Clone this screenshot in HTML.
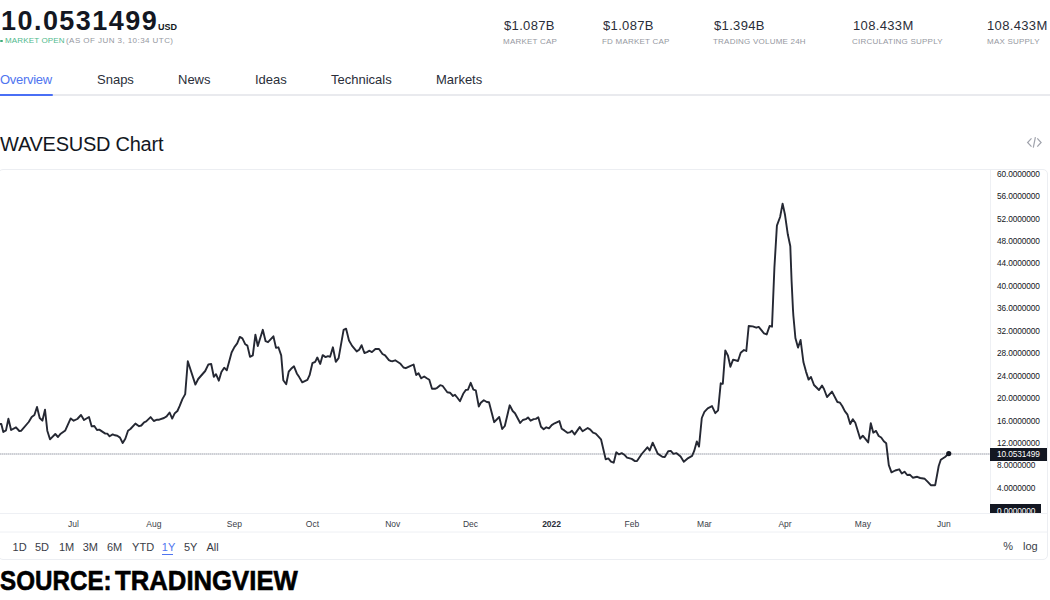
<!DOCTYPE html>
<html><head><meta charset="utf-8">
<style>
*{margin:0;padding:0;box-sizing:border-box}
html,body{width:1050px;height:600px;overflow:hidden;background:#fff}
body{position:relative;font-family:"Liberation Sans",sans-serif;color:#131722}
.a{position:absolute;white-space:nowrap}
.price{left:1px;top:6px;font-size:27px;font-weight:bold;letter-spacing:1.45px;line-height:30px;color:#131722}
.usd{left:158px;top:21.5px;font-size:9px;font-weight:bold;line-height:10px;color:#131722}
.mo{left:5px;top:36px;font-size:8px;line-height:10px;color:#9598a1;letter-spacing:0.15px}
.mo .g{color:#4fb98c}
.mo2{left:66px;letter-spacing:0.44px}
.sv{font-size:13px;line-height:14px;color:#2a2e39;top:19px;letter-spacing:0.35px}
.sl{font-size:8px;line-height:10px;color:#9598a1;top:36.7px;letter-spacing:0.22px;margin-left:-1px}
.tab{top:72px;font-size:13px;line-height:15px;color:#2a2e39}
.title{left:0;top:133px;font-size:20px;line-height:22px;color:#131722;letter-spacing:-0.25px}
.box{left:-2px;top:169px;width:1050px;height:391px;border:1px solid #eceef2;border-radius:5px}
.yl{font-size:8.3px;line-height:10px;color:#131722;left:997px;letter-spacing:-0.1px}
.xl{font-size:8.5px;line-height:10px;color:#3a3d47;top:519px}
.tb{top:541px;font-size:11px;line-height:12px;color:#3a3d47}
.src{left:0;top:565px;font-size:28.5px;font-weight:bold;line-height:30px;color:#000;transform-origin:0 0;transform:scaleX(0.868);-webkit-text-stroke:0.6px #000}
</style></head><body>
<div class="a price">10.0531499</div>
<div class="a usd">USD</div>
<div class="a" style="left:-0.3px;top:39.7px;width:2.8px;height:2.8px;border-radius:50%;background:#3fae7f"></div>
<div class="a mo"><span class="g">MARKET OPEN</span></div>
<div class="a mo mo2">(AS OF JUN 3, 10:34 UTC)</div>

<div class="a sv" style="left:504px">$1.087B</div>
<div class="a sl" style="left:504px">MARKET CAP</div>
<div class="a sv" style="left:603px">$1.087B</div>
<div class="a sl" style="left:603px">FD MARKET CAP</div>
<div class="a sv" style="left:714px">$1.394B</div>
<div class="a sl" style="left:714px">TRADING VOLUME 24H</div>
<div class="a sv" style="left:853px">108.433M</div>
<div class="a sl" style="left:853px">CIRCULATING SUPPLY</div>
<div class="a sv" style="left:987px">108.433M</div>
<div class="a sl" style="left:988px">MAX SUPPLY</div>

<div class="a tab" style="left:0;color:#5075f0;letter-spacing:-0.3px">Overview</div>
<div class="a tab" style="left:97px">Snaps</div>
<div class="a tab" style="left:178px">News</div>
<div class="a tab" style="left:255px">Ideas</div>
<div class="a tab" style="left:331px">Technicals</div>
<div class="a tab" style="left:436px">Markets</div>
<div class="a" style="left:0;top:94px;width:1050px;height:2px;background:#e9eaee"></div>
<div class="a" style="left:0;top:93.8px;width:52.5px;height:2px;background:#4a6ff5;border-radius:0 1px 1px 0"></div>

<div class="a title">WAVESUSD Chart</div>
<svg class="a" style="left:1026px;top:136px" width="17" height="13" viewBox="1026 136 17 13">
<path d="M1031.5 138.3 L1027.6 142.5 L1031.5 146.7 M1035.4 137.2 L1033.3 147.7 M1037.3 138.3 L1041.1 142.5 L1037.3 146.7" fill="none" stroke="#a0a3ac" stroke-width="1.2"/>
</svg>

<div class="a box"></div>
<!--CHART-->
<svg class="a" style="left:0;top:0" width="1050" height="600" viewBox="0 0 1050 600">
<line x1="0" y1="453.9" x2="990" y2="453.9" stroke="#e2e3e7" stroke-width="2"/><line x1="0" y1="453.9" x2="990" y2="453.9" stroke="#cdcfd4" stroke-width="2" stroke-dasharray="1,1"/>
<polyline points="0,424 1.3,424 3.3,432 6,430.4 8.4,418.7 11.1,430 16,427.3 19.3,431 21.3,430.7 28.7,422 31.7,417 34.4,415 37,407 39.7,418 42.4,420.7 45,409.6 47.3,430.7 50,439.3 55.3,434 58,437 60.7,433.7 65.3,430.4 70.7,418.4 73.7,420.7 77.3,419 81,415 84,420 89,417 91.7,426.4 94.3,426 97,430 99.3,429.6 105.3,433.6 107.3,433.6 109.6,436.3 112.7,434.4 115,435.3 117.3,435.7 120,437.6 122.7,443 125.3,438.7 128,430.7 130.4,429 135.4,423.6 139.1,426.2 141.3,425.5 144.1,422.3 146.2,421.4 150.6,417.1 153.8,421 157.1,419.7 159.2,419.7 164,418 166.6,416.4 169.6,412.5 172.2,418.6 174.8,413.2 177.4,411 179.6,406.2 182.4,399.1 185.2,394.1 187.8,361.2 195.4,384.6 198.2,379 205.2,371 208.4,364.4 211.2,364 213.8,376.8 216,374.2 218.8,380.7 221.4,372 224.2,367.7 226.8,370.3 231.6,352.5 234.4,347.1 237.2,343.4 239.8,336.9 242.4,338.4 245.3,344.3 247.4,345.6 250,356.8 252.8,355.3 255.4,334.7 257.8,346 262.8,329.8 265.6,341.2 268,342.2 270.6,339.4 273.4,336.3 276,347.9 278.4,347.3 281.2,355.4 283.3,380.2 286.2,384.2 288.7,371.7 291.1,368.8 294,366.3 296.8,373.4 299.2,377.1 302.2,382.3 307.4,379.9 309.6,375.2 312.4,363.2 315.2,361.8 317.3,357.5 320.2,363.9 322.7,355.1 325.6,357.1 328,356.1 330.1,356.8 332.9,347.3 335.8,361.8 338.6,358.2 343.6,329.9 346.1,328.7 349,340.5 352.1,345.9 356.7,351.4 359.2,349.7 361.6,345.2 364.4,353 367,352.1 369.5,350.7 371.9,352.1 375.4,349 379,349 382.5,354 385.1,355.4 388.9,360.1 391,361.1 392.7,361.2 395.2,360.3 400.5,363.8 403.5,367.5 405.8,368.2 409.5,366.4 413.6,364.5 416.2,375 418.5,373.2 421.2,378.3 424.2,376.5 426.8,378.3 429.3,379.8 432,388.8 435,388.8 437.2,387.8 440.2,385.2 442.5,385.8 447.3,392.2 450,392.7 453,396 455,394.8 457.2,397.5 460,401.2 463.2,393.8 465.8,390 468,389.6 470.7,382.8 473.4,389.7 475.8,390.3 478.8,406.5 480.8,402.8 483.8,400.2 486.8,402 489,402.3 494.2,422.2 499.2,417 502.2,429 504.8,426 509.7,405.3 512.7,411 515,413.2 520.2,423 522.8,420 525.8,419.2 528,417.4 530.6,420.7 533.7,419.1 535.9,418.9 538.3,417.3 541,426.7 543.7,429.3 546.3,427.3 549,428.3 551.7,425.1 554.6,423.3 559.4,421.1 561.7,428.7 564.3,430.4 567.4,432.7 569.7,432.4 571.9,430.7 574.6,434.4 579.7,427.1 582.6,431.3 587.7,428 590.3,429.6 593,432.7 595.7,433.6 598.3,436.3 601,439.3 605.7,459.3 608.3,458.4 611,461.6 613.7,462.7 616.3,452.3 619,454.4 621.7,453.1 624.3,454.7 627,457.6 631.7,458.9 635,461.1 637,461.1 641.7,454 647.4,447.3 649.7,450.4 652.7,442.7 657.7,453.6 662.3,456.7 664.8,457 668.2,451.2 670.8,450.9 673.4,453.8 676.3,453.1 680.6,456.6 683.8,461.8 688.2,458.1 692.1,455.9 694.2,450.9 696.8,441.4 699,446.6 701.8,418 704.4,411.9 707.7,408.3 712,406.1 715.3,413.2 718.1,410.4 720.7,383.3 722.8,383.8 725.3,350.4 728,355.7 730.4,366.7 733.1,359.7 738,361 740.7,352.7 744,350 746.3,351 748.7,326 752.7,326.4 756.3,327.7 758.7,326.9 764,333.3 766.7,334.4 769.6,326 772,326.7 774.4,267.8 776.9,225.7 780.1,217 782.6,203.6 784.9,214.2 787.8,234.3 790.3,246.3 791.6,281.2 793,310 793.4,316 795.4,338 798,347.6 800.6,340 803.4,362 806,371.6 808.6,379.6 811,377 814,385 819,390 822,385.6 824,389 827,397 832,391.6 837.4,402 840,402.7 842.2,406 844.8,411.2 847.5,414.7 850.2,424 852.8,419.2 855.3,422.8 860.2,438.7 862.8,435.7 868.2,442.4 870.8,423.2 873.3,432.7 876,430.9 878.7,436 881.2,437.5 883.8,441.2 886.2,443.2 888.8,465.2 891.5,472.3 895.2,470.5 899.2,469.3 901.8,473.5 904.5,471.7 907.2,475 909.8,474.7 912.8,477.7 917.2,476.8 920.2,478 924.8,478.8 927.8,481.8 930.8,485.2 935.2,485.2 938.7,466 940.8,459.7 945,457 948.8,453.6" fill="none" stroke="#252833" stroke-width="1.9" stroke-linejoin="round" stroke-linecap="round"/>
<circle cx="948.75" cy="453.6" r="2.6" fill="#131722"/>
<line x1="990.5" y1="170" x2="990.5" y2="513" stroke="#eef0f4" stroke-width="1"/>
<line x1="0" y1="513.5" x2="1047" y2="513.5" stroke="#eef0f4" stroke-width="1"/>
<line x1="0" y1="532" x2="1047" y2="532" stroke="#eef0f4" stroke-width="1"/>
</svg>
<div class="a yl" style="top:168.7px">60.0000000</div>
<div class="a yl" style="top:191.1px">56.0000000</div>
<div class="a yl" style="top:213.6px">52.0000000</div>
<div class="a yl" style="top:236.0px">48.0000000</div>
<div class="a yl" style="top:258.4px">44.0000000</div>
<div class="a yl" style="top:280.9px">40.0000000</div>
<div class="a yl" style="top:303.3px">36.0000000</div>
<div class="a yl" style="top:325.7px">32.0000000</div>
<div class="a yl" style="top:348.2px">28.0000000</div>
<div class="a yl" style="top:370.6px">24.0000000</div>
<div class="a yl" style="top:393.0px">20.0000000</div>
<div class="a yl" style="top:415.5px">16.0000000</div>
<div class="a yl" style="top:437.9px">12.0000000</div>
<div class="a yl" style="top:460.3px">8.0000000</div>
<div class="a yl" style="top:482.8px">4.0000000</div>
<div class="a" style="left:990px;top:447.5px;width:57px;height:13.5px;background:#131722"></div>
<div class="a yl" style="top:449px;color:#fff">10.0531499</div>
<div class="a" style="left:990px;top:503.5px;width:51px;height:9.5px;background:#131722;overflow:hidden"><div class="a yl" style="left:7px;top:2px;color:#fff">0.0000000</div></div>
<!--/CHART-->

<!--XL-->
<div class="a xl" style="left:53.5px;width:40px;text-align:center">Jul</div>
<div class="a xl" style="left:133.9px;width:40px;text-align:center">Aug</div>
<div class="a xl" style="left:214.3px;width:40px;text-align:center">Sep</div>
<div class="a xl" style="left:292.4px;width:40px;text-align:center">Oct</div>
<div class="a xl" style="left:372.8px;width:40px;text-align:center">Nov</div>
<div class="a xl" style="left:450.5px;width:40px;text-align:center">Dec</div>
<div class="a xl" style="left:531.6px;width:40px;text-align:center;font-weight:bold;color:#2a2e39">2022</div>
<div class="a xl" style="left:611.9px;width:40px;text-align:center">Feb</div>
<div class="a xl" style="left:684.4px;width:40px;text-align:center">Mar</div>
<div class="a xl" style="left:765.0px;width:40px;text-align:center">Apr</div>
<div class="a xl" style="left:842.9px;width:40px;text-align:center">May</div>
<div class="a xl" style="left:923.8px;width:40px;text-align:center">Jun</div>
<div class="a tb" style="left:12.6px">1D</div>
<div class="a tb" style="left:35px">5D</div>
<div class="a tb" style="left:59px">1M</div>
<div class="a tb" style="left:82.7px">3M</div>
<div class="a tb" style="left:107px">6M</div>
<div class="a tb" style="left:132.1px">YTD</div>
<div class="a tb" style="left:161.8px;color:#5075f0">1Y</div>
<div class="a tb" style="left:184px">5Y</div>
<div class="a tb" style="left:206.4px">All</div>
<div class="a" style="left:162px;top:553.5px;width:11px;height:1.5px;background:#5075f0"></div>
<div class="a tb" style="left:1003.3px;top:540px">%</div>
<div class="a tb" style="left:1023px;top:540px">log</div>
<!--/XL-->
<div class="a src" id="s1" style="transform:scaleX(0.849)">SOURCE:</div><div class="a src" id="s2" style="left:115px;transform:scaleX(0.902)">TRADINGVIEW</div>
</body></html>
